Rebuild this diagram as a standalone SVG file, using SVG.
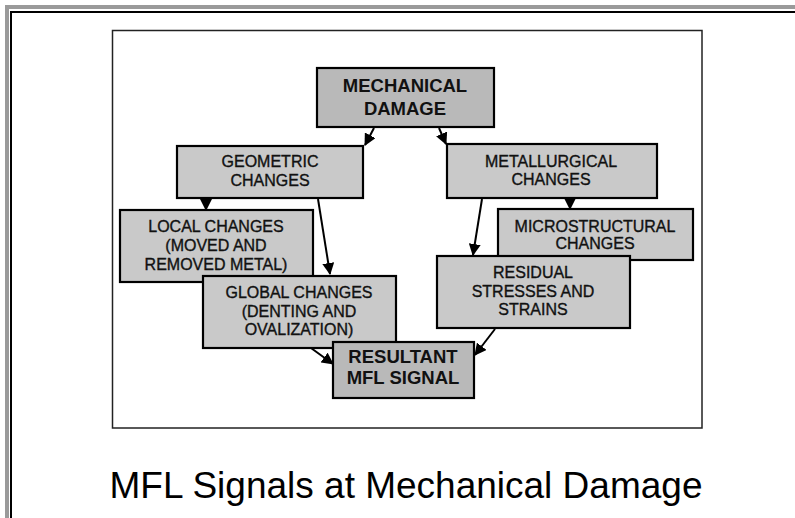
<svg xmlns="http://www.w3.org/2000/svg" width="795" height="518" viewBox="0 0 795 518">
<defs>
<style>
.box{fill:#c9c9c9;stroke:#000;stroke-width:2.2}
.dark{fill:#b9b9b9}
.t{font-family:"Liberation Sans",Arial,sans-serif;font-size:16px;fill:#111;text-anchor:middle;stroke:#111;stroke-width:0.35}
.b{font-family:"Liberation Sans",Arial,sans-serif;font-size:18.5px;font-weight:bold;fill:#111;text-anchor:middle}
.c{stroke:#000;stroke-width:2;fill:none;marker-end:url(#ah)}
</style>
<marker id="ah" markerWidth="12" markerHeight="12" refX="11" refY="6" orient="auto" markerUnits="userSpaceOnUse">
<path d="M0,0 L12,6 L0,12 Z" fill="#000"/>
</marker>
</defs>
<rect width="795" height="518" fill="#fff"/>
<g id="frame">
<path d="M7,518 V7 H795" fill="none" stroke="#9a9a9a" stroke-width="4"/>
<path d="M11,518 V12 H795" fill="none" stroke="#000" stroke-width="2"/>
<rect x="112.5" y="30.5" width="589.5" height="397.5" fill="#fff" stroke="#222" stroke-width="1.5"/>
</g>
<g id="connectors">
<line class="c" x1="374" y1="128" x2="365" y2="145"/>
<line class="c" x1="439" y1="128" x2="446" y2="144"/>
<line class="c" x1="206" y1="199" x2="206" y2="210"/>
<line class="c" x1="318" y1="199" x2="330" y2="274"/>
<line class="c" x1="482" y1="199" x2="473" y2="255"/>
<line class="c" x1="570" y1="199" x2="570" y2="209"/>
<line class="c" x1="311" y1="348" x2="333" y2="364"/>
<line class="c" x1="495" y1="329" x2="475" y2="355"/>
</g>
<g id="mechanical">
<rect class="box dark" x="317" y="68" width="177" height="59"/>
<text class="b" x="405" y="92">MECHANICAL</text>
<text class="b" x="405" y="115">DAMAGE</text>
</g>
<g id="geometric">
<rect class="box" x="177" y="146" width="186" height="52"/>
<text class="t" x="270" y="167">GEOMETRIC</text>
<text class="t" x="270" y="186">CHANGES</text>
</g>
<g id="metallurgical">
<rect class="box" x="447" y="144" width="210" height="54"/>
<text class="t" x="551" y="167">METALLURGICAL</text>
<text class="t" x="551" y="185">CHANGES</text>
</g>
<g id="local">
<rect class="box" x="120" y="210" width="193" height="72"/>
<text class="t" x="216" y="232">LOCAL CHANGES</text>
<text class="t" x="216" y="251">(MOVED AND</text>
<text class="t" x="216" y="270">REMOVED METAL)</text>
</g>
<g id="microstructural">
<rect class="box" x="498" y="209" width="195" height="51"/>
<text class="t" x="595" y="232">MICROSTRUCTURAL</text>
<text class="t" x="595" y="249">CHANGES</text>
</g>
<g id="global">
<rect class="box" x="203" y="276" width="193" height="72"/>
<text class="t" x="299" y="298">GLOBAL CHANGES</text>
<text class="t" x="299" y="317">(DENTING AND</text>
<text class="t" x="299" y="335">OVALIZATION)</text>
</g>
<g id="residual">
<rect class="box" x="437" y="256" width="193" height="72"/>
<text class="t" x="533" y="278">RESIDUAL</text>
<text class="t" x="533" y="297">STRESSES AND</text>
<text class="t" x="533" y="315">STRAINS</text>
</g>
<g id="resultant">
<rect class="box dark" x="333" y="342" width="141" height="56"/>
<text class="b" x="403" y="363">RESULTANT</text>
<text class="b" x="403" y="384">MFL SIGNAL</text>
</g>
<text x="406" y="498" font-family="'Liberation Sans',Arial,sans-serif" font-size="37" fill="#000" text-anchor="middle">MFL Signals at Mechanical Damage</text>
</svg>
